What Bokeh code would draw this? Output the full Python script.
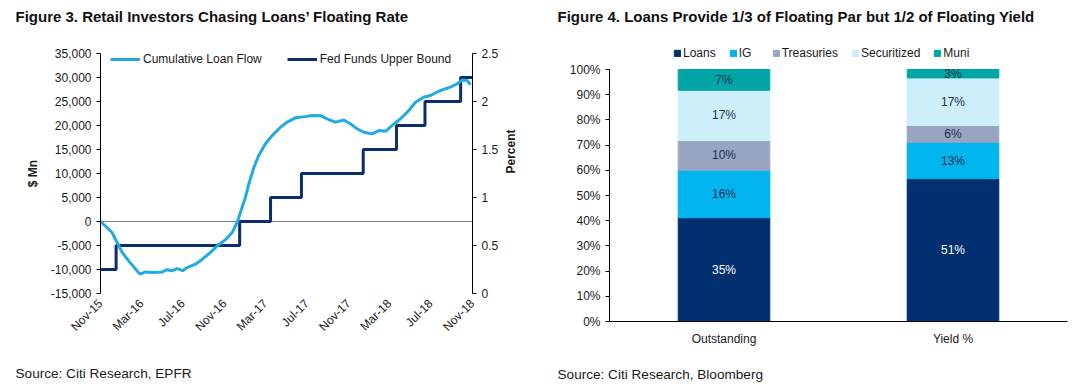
from math import pi
import pandas as pd
from bokeh.plotting import figure
from bokeh.models import (Range1d, LinearAxis, FixedTicker, NumeralTickFormatter,
                          DatetimeTickFormatter, Span, Title, Legend, LegendItem,
                          ColumnDataSource, FactorRange)
from bokeh.layouts import row
from bokeh.embed import file_html
from bokeh.resources import INLINE
from bokeh.core.properties import value

# ---------------- data ----------------
flow_dates = ["2015-11-01", "2015-11-20", "2015-12-05", "2015-12-15", "2016-01-04", "2016-01-23",
              "2016-02-12", "2016-02-25", "2016-03-13", "2016-04-01", "2016-05-01", "2016-05-15",
              "2016-05-30", "2016-06-14", "2016-06-30", "2016-07-13", "2016-08-07", "2016-08-27",
              "2016-09-20", "2016-10-10", "2016-11-03", "2016-11-23", "2016-12-08", "2016-12-22",
              "2017-01-01", "2017-01-11", "2017-01-26", "2017-02-09", "2017-03-01", "2017-03-21",
              "2017-04-14", "2017-05-04", "2017-05-28", "2017-06-27", "2017-07-17", "2017-08-10",
              "2017-09-04", "2017-09-23", "2017-10-18", "2017-11-06", "2017-11-26", "2017-12-16",
              "2018-01-09", "2018-01-29", "2018-02-18", "2018-03-09", "2018-04-03", "2018-04-27",
              "2018-05-17", "2018-06-10", "2018-06-30", "2018-07-30", "2018-08-28", "2018-09-17",
              "2018-10-02", "2018-10-16", "2018-10-26"]
flow_values = [0, -1250, -2300, -3700, -6450, -8200, -9900, -10950, -10500, -10600, -10500, -10050,
               -10250, -9800, -10250, -9600, -8900, -7850, -6450, -5050, -3800, -2300, -100, 2900,
               5000, 7800, 11300, 13700, 16200, 17900, 19650, 20700, 21600, 21850, 22100, 22050,
               21200, 20700, 21150, 20350, 19300, 18600, 18250, 18950, 18800, 20000, 21400, 23100,
               24850, 25900, 26250, 27300, 28000, 28700, 29500, 29400, 28500]

fed_dates = ["2015-11-01", "2015-12-17", "2016-12-15", "2017-03-16", "2017-06-15", "2017-12-14",
             "2018-03-22", "2018-06-14", "2018-09-27", "2018-11-01"]
fed_values = [0.25, 0.5, 0.75, 1.0, 1.25, 1.5, 1.75, 2.0, 2.25, 2.25]

x_tick_dates = ["2015-11-01", "2016-03-01", "2016-07-01", "2016-11-01", "2017-03-01", "2017-07-01",
                "2017-11-01", "2018-03-01", "2018-07-01", "2018-11-01"]
left_ticks = [-15000, -10000, -5000, 0, 5000, 10000, 15000, 20000, 25000, 30000, 35000]
right_ticks = [0, 0.5, 1, 1.5, 2, 2.5]

categories = ["Outstanding", "Yield %"]
segments = ["Loans", "IG", "Treasuries", "Securitized", "Muni"]
outstanding = [35, 16, 10, 17, 7]
yield_pct = [51, 13, 6, 17, 3]
pct_ticks = [0, 0.1, 0.2, 0.3, 0.4, 0.5, 0.6, 0.7, 0.8, 0.9, 1.0]

# ---------------- style ----------------
FONT = "'Liberation Sans', Arial, sans-serif"
TXT = "#1a1a1a"
LBLUE = "#22ABE2"
NAVY = "#0B2D6E"
seg_colors = ["#00306F", "#00B4EE", "#98A5C2", "#CCEFFA", "#00A6A6"]
seg_text = ["white", "#1F2F4F", "#1F2F4F", "#1F2F4F", "#1F2F4F"]


def style_axis(ax):
    ax.major_label_text_font = FONT
    ax.major_label_text_font_size = "12px"
    ax.major_label_text_color = TXT
    ax.axis_line_color = "black"
    ax.major_tick_line_color = "black"
    ax.major_tick_in = 0
    ax.major_tick_out = 4
    ax.minor_tick_line_color = None
    ax.axis_label_text_font = FONT
    ax.axis_label_text_font_size = "12px"
    ax.axis_label_text_font_style = "bold"
    ax.axis_label_text_color = TXT


def spacer(px):
    return Title(text=" ", text_font_size="1px", standoff=px)


def heading(text, offset):
    return Title(text=text, align="left", offset=offset, standoff=0,
                 text_font=FONT, text_font_size="15px", text_font_style="bold",
                 text_color="#111111")


def source_note(text, offset):
    return Title(text=text, align="left", offset=offset, standoff=0,
                 text_font=FONT, text_font_size="13.6px", text_font_style="normal",
                 text_color=TXT)


# ---------------- left chart ----------------
to_dt = lambda lst: [pd.Timestamp(d).to_pydatetime() for d in lst]
xd0, xd1 = to_dt(["2015-11-01", "2018-11-01"])

p1 = figure(width=540, height=386, x_axis_type="datetime",
            x_range=Range1d(xd0, xd1), y_range=Range1d(-15000, 35000),
            output_backend="svg", toolbar_location=None, title=None, frame_align=False,
            min_border_left=100, min_border_right=68, min_border_top=53, min_border_bottom=93)
p1.outline_line_color = None
p1.grid.visible = False

p1.extra_y_ranges = {"rate": Range1d(0, 2.5)}
rax = LinearAxis(y_range_name="rate", axis_label="Percent",
                 ticker=FixedTicker(ticks=right_ticks),
                 formatter=NumeralTickFormatter(format="0.[0]"))
style_axis(rax)
rax.axis_label_standoff = 10
rax.axis_label_orientation = pi / 2
p1.add_layout(rax, "right")

yax = p1.yaxis[0]
style_axis(yax)
yax.ticker = FixedTicker(ticks=left_ticks)
yax.formatter = NumeralTickFormatter(format="0,0")
yax.axis_label = "$ Mn"
yax.axis_label_standoff = 8

xax = p1.xaxis[0]
style_axis(xax)
xax.ticker = FixedTicker(ticks=[pd.Timestamp(d).value // 10**6 for d in x_tick_dates])
xax.formatter = DatetimeTickFormatter(days="%b-%y", months="%b-%y", years="%b-%y")
xax.major_label_orientation = pi / 4
xax.axis_line_color = None
xax.major_tick_line_color = None
xax.major_label_standoff = 4

zero = Span(location=0, dimension="width", line_color="#808080", line_width=1, level="underlay")
p1.add_layout(zero)

r_fed = p1.step(to_dt(fed_dates), fed_values, mode="after", y_range_name="rate",
                line_color=NAVY, line_width=3)
r_flow = p1.line(to_dt(flow_dates), flow_values, line_color=LBLUE, line_width=3)

leg1 = Legend(items=[LegendItem(label="Cumulative Loan Flow", renderers=[r_flow]),
                     LegendItem(label="Fed Funds Upper Bound", renderers=[r_fed])],
              location=(10, 227), orientation="horizontal",
              glyph_width=30, glyph_height=12, label_height=12, label_standoff=3,
              spacing=25, padding=0, margin=0, border_line_color=None,
              background_fill_alpha=0, label_text_font=FONT, label_text_font_size="12px",
              label_text_color=TXT)
p1.add_layout(leg1)

p1.add_layout(spacer(26), "above")
p1.add_layout(heading("Figure 3. Retail Investors Chasing Loans\u2019 Floating Rate", -85), "above")
p1.add_layout(spacer(19), "below")
p1.add_layout(source_note("Source: Citi Research, EPFR", -85), "below")

# ---------------- right chart ----------------
R_TOP, R_BOTTOM, R_HEIGHT = 46, 65, 386
bar_px = 252  # pixel height of the 0-100% span
y_end = (R_HEIGHT - R_TOP - R_BOTTOM) / bar_px

p2 = figure(width=540, height=R_HEIGHT, x_range=FactorRange(factors=categories),
            y_range=Range1d(0, y_end), output_backend="svg", toolbar_location=None, title=None,
            frame_align=False,
            min_border_left=69, min_border_right=13, min_border_top=R_TOP, min_border_bottom=R_BOTTOM)
p2.outline_line_color = None
p2.grid.visible = False

tot_o = sum(outstanding)
tot_y = sum(yield_pct)
src = {"cat": categories}
for i, s in enumerate(segments):
    src[s] = [outstanding[i] / tot_o, yield_pct[i] / tot_y]
source = ColumnDataSource(src)
bars = p2.vbar_stack(segments, x="cat", width=0.4, color=seg_colors, source=source)

lab_x, lab_y, lab_t, lab_c = [], [], [], []
for j, (vals, tot) in enumerate([(outstanding, tot_o), (yield_pct, tot_y)]):
    cum = 0.0
    for i, v in enumerate(vals):
        frac = v / tot
        lab_x.append(categories[j])
        lab_y.append(cum + frac / 2)
        lab_t.append(f"{v}%")
        lab_c.append(seg_text[i])
        cum += frac
p2.text(x=lab_x, y=lab_y, text=lab_t, text_color=lab_c, text_align="center",
        text_baseline="middle", text_font=value(FONT), text_font_size="12px")

y2 = p2.yaxis[0]
style_axis(y2)
y2.ticker = FixedTicker(ticks=pct_ticks)
y2.formatter = NumeralTickFormatter(format="0%")
y2.bounds = (0, 1)

x2 = p2.xaxis[0]
style_axis(x2)
x2.major_tick_line_color = None
x2.major_label_standoff = 6

leg2 = Legend(items=[LegendItem(label=s, renderers=[bars[i]]) for i, s in enumerate(segments)],
              location=(64, 261), orientation="horizontal",
              glyph_width=8, glyph_height=8, label_height=12, label_standoff=2,
              spacing=13, padding=0, margin=0, border_line_color=None,
              background_fill_alpha=0, label_text_font=FONT, label_text_font_size="12px",
              label_text_color=TXT)
p2.add_layout(leg2)

p2.add_layout(spacer(19), "above")
p2.add_layout(heading("Figure 4. Loans Provide 1/3 of Floating Par but 1/2 of Floating Yield", -52), "above")
p2.add_layout(spacer(13), "below")
p2.add_layout(source_note("Source: Citi Research, Bloomberg", -52), "below")

layout = row(p1, p2)
open("out.html", "w").write(file_html(layout, INLINE))
